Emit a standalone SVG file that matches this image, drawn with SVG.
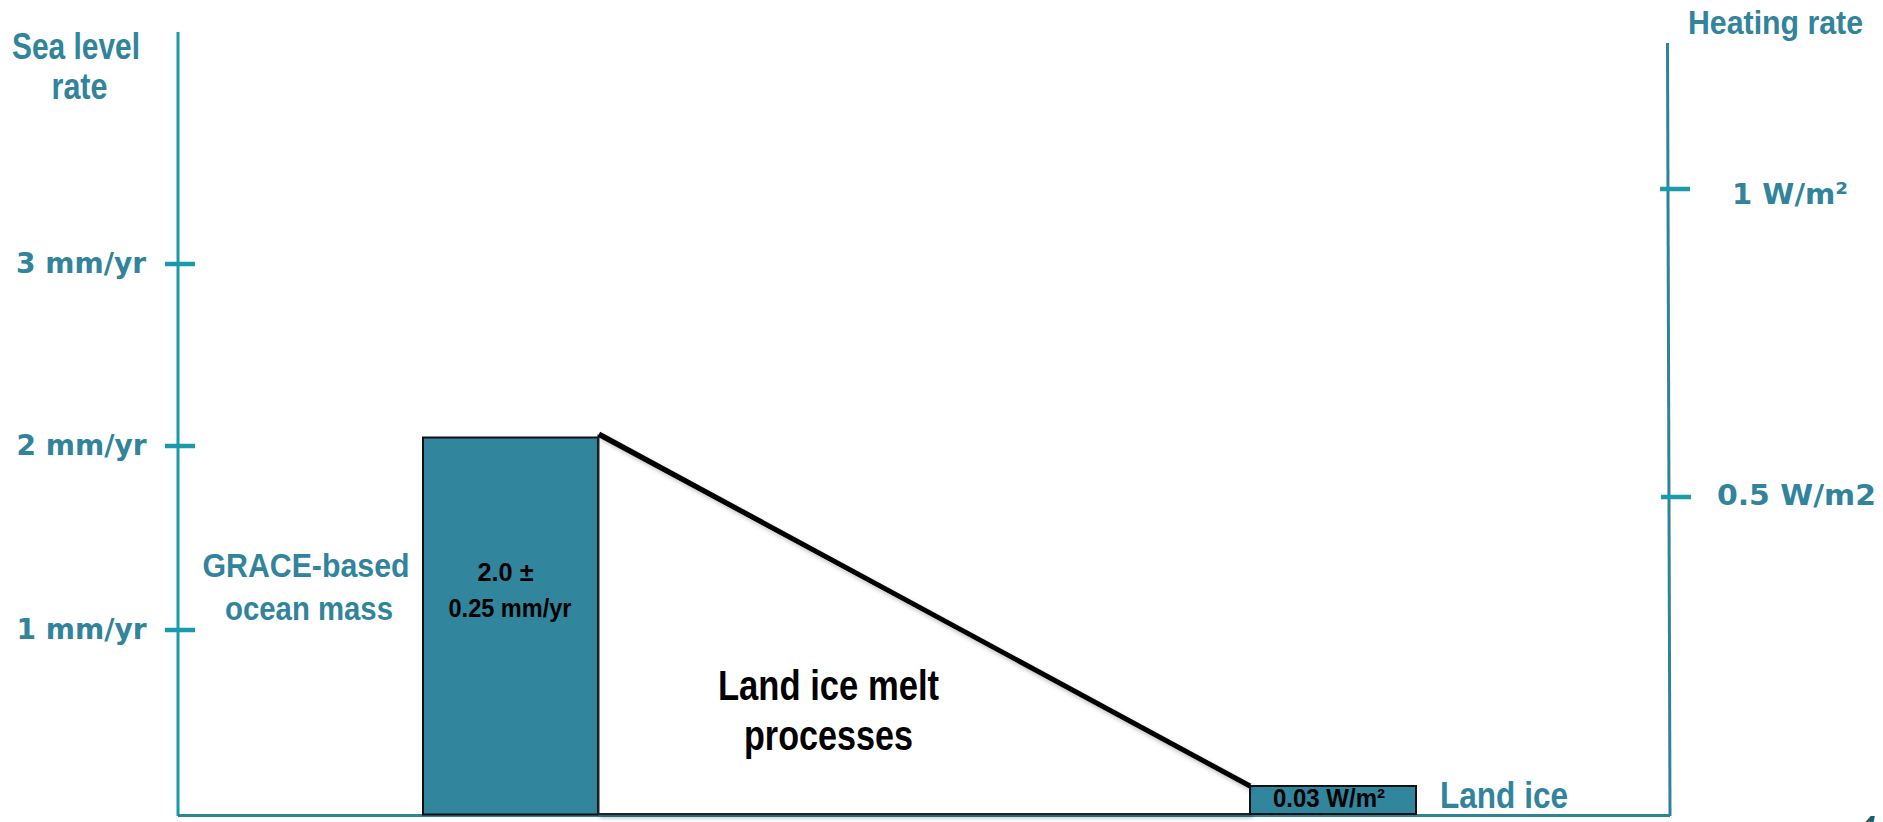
<svg xmlns="http://www.w3.org/2000/svg" width="1883" height="822" viewBox="0 0 1883 822">
  <style>
    .axis { stroke: #1a9aab; stroke-width: 3; fill: none; }
    .axis2 { stroke: #2f8398; stroke-width: 3; fill: none; }
    .tick { stroke: #1a9aab; stroke-width: 4.5; }
    .tl { font-family: "DejaVu Sans", "Liberation Sans", sans-serif; font-weight: bold; font-size: 29px; fill: #31849b; }
    .tt { font-family: "Liberation Sans Narrow", "Liberation Sans", sans-serif; font-weight: bold; fill: #31849b; }
    .bt { font-family: "Liberation Sans Narrow", "Liberation Sans", sans-serif; font-weight: bold; fill: #000; }
    .bar { fill: #31859c; stroke: #111; stroke-width: 2; }
  </style>
  <defs>
    <filter id="sh" x="-10%" y="-10%" width="120%" height="130%">
      <feDropShadow dx="2" dy="3" stdDeviation="2" flood-color="#000" flood-opacity="0.25"/>
    </filter>
  </defs>
  <rect width="1883" height="822" fill="#fff"/>

  <g id="left-axis">
    <line class="axis" x1="178" y1="32" x2="178" y2="816"/>
    <line class="tick" x1="165" y1="264" x2="195" y2="264"/>
    <line class="tick" x1="165" y1="446" x2="195" y2="446"/>
    <line class="tick" x1="165" y1="630" x2="195" y2="630"/>
    <text class="tt" x="76" y="59" font-size="37" text-anchor="middle" textLength="128" lengthAdjust="spacingAndGlyphs">Sea level</text>
    <text class="tt" x="79.5" y="99" font-size="37" text-anchor="middle" textLength="56" lengthAdjust="spacingAndGlyphs">rate</text>
    <text class="tl" x="16" y="273" textLength="130" lengthAdjust="spacingAndGlyphs">3 mm/yr</text>
    <text class="tl" x="16.5" y="455" textLength="130" lengthAdjust="spacingAndGlyphs">2 mm/yr</text>
    <text class="tl" x="16.5" y="639" textLength="130" lengthAdjust="spacingAndGlyphs">1 mm/yr</text>
  </g>

  <g id="right-axis">
    <line class="axis2" x1="1667.5" y1="43" x2="1670" y2="816"/>
    <line class="tick" x1="1660" y1="189" x2="1690" y2="189"/>
    <line class="tick" x1="1661" y1="497" x2="1691" y2="497"/>
    <text class="tt" x="1688" y="34" font-size="34" textLength="175" lengthAdjust="spacingAndGlyphs">Heating rate</text>
    <text class="tl" x="1732" y="204" textLength="116" lengthAdjust="spacingAndGlyphs">1 W/m²</text>
    <text class="tl" x="1717" y="505" textLength="159" lengthAdjust="spacingAndGlyphs">0.5 W/m2</text>
  </g>

  <g id="bottom-axis">
    <line class="axis2" x1="178" y1="815.5" x2="1670" y2="815.5" stroke="#4a94a8"/>
  </g>

  <g id="grace-bar">
    <rect class="bar" x="423" y="437.5" width="175" height="377"/>
    <text class="tt" x="306" y="577" font-size="33" text-anchor="middle" textLength="207" lengthAdjust="spacingAndGlyphs">GRACE-based</text>
    <text class="tt" x="309" y="620" font-size="33" text-anchor="middle" textLength="168" lengthAdjust="spacingAndGlyphs">ocean mass</text>
    <text class="bt" x="505.5" y="581" font-size="26" text-anchor="middle" textLength="56" lengthAdjust="spacingAndGlyphs">2.0 ±</text>
    <text class="bt" x="510" y="617" font-size="26" text-anchor="middle" textLength="123" lengthAdjust="spacingAndGlyphs">0.25 mm/yr</text>
  </g>

  <g id="melt-wedge">
    <polygon points="598.5,436 1250,786 1250,814 598.5,814" fill="#fff" stroke="#222" stroke-width="2" filter="url(#sh)"/>
    <text class="bt" x="828.5" y="700" font-size="43" text-anchor="middle" textLength="221" lengthAdjust="spacingAndGlyphs">Land ice melt</text>
    <text class="bt" x="828.5" y="750" font-size="43" text-anchor="middle" textLength="169" lengthAdjust="spacingAndGlyphs">processes</text>
  </g>

  <g id="land-ice-bar">
    <rect class="bar" x="1250" y="786" width="166" height="28"/>
    <text class="bt" x="1273" y="807" font-size="26" textLength="112" lengthAdjust="spacingAndGlyphs">0.03 W/m²</text>
    <text class="tt" x="1440" y="808" font-size="37" textLength="128" lengthAdjust="spacingAndGlyphs">Land ice</text>
  </g>

  <g id="connectors">
    <line x1="599" y1="434" x2="1250" y2="786" stroke="#000" stroke-width="5" filter="url(#sh)"/>
  </g>

  <g id="page-number">
    <text x="1853" y="845" font-family="Liberation Sans, sans-serif" font-size="42" font-style="italic" fill="#1b5f6b">4</text>
  </g>
</svg>
